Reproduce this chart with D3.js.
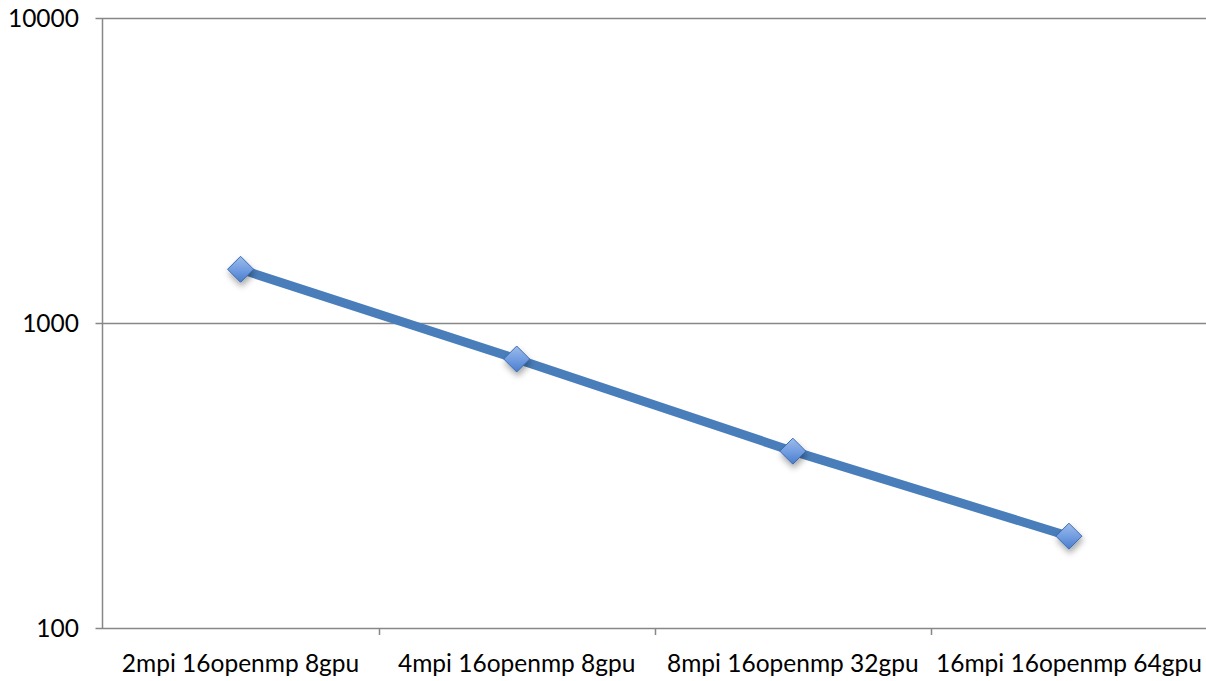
<!DOCTYPE html>
<html>
<head>
<meta charset="utf-8">
<script src="https://cdn.jsdelivr.net/npm/d3@7"></script>
<style>
  html, body { margin: 0; padding: 0; background: #fff; }
  svg { display: block; }
</style>
</head>
<body>
<svg id="chart" width="1206" height="681"></svg>
<script>
// Run configurations and their timings (log scale)
const categories = [
  "2mpi 16openmp 8gpu",
  "4mpi 16openmp 8gpu",
  "8mpi 16openmp 32gpu",
  "16mpi 16openmp 64gpu"
];
const timings = [1500, 762, 380, 200];
const yTicks = [100, 1000, 10000];

const svg = d3.select("#chart");
const plotLeft = 102.5, plotRight = 1207, plotTop = 18, plotBottom = 628;
const font = "Lato, 'Open Sans', sans-serif";
const fontSize = 24.5;

const x = d3.scaleBand().domain(categories).range([plotLeft, plotRight]).paddingInner(0).paddingOuter(0);
const y = d3.scaleLog().domain([100, 10000]).range([plotBottom, plotTop]);

const defs = svg.append("defs");
const grad = defs.append("linearGradient").attr("id", "markerFill")
  .attr("x1", 0).attr("y1", 0).attr("x2", 0).attr("y2", 1);
grad.append("stop").attr("offset", "0%").attr("stop-color", "#9dbcea");
grad.append("stop").attr("offset", "55%").attr("stop-color", "#6f9be0");
grad.append("stop").attr("offset", "100%").attr("stop-color", "#4a7dc9");
const shadow = defs.append("filter").attr("id", "shadow")
  .attr("x", "-50%").attr("y", "-50%").attr("width", "200%").attr("height", "200%");
shadow.append("feDropShadow").attr("dx", 1).attr("dy", 4).attr("stdDeviation", 3)
  .attr("flood-color", "#000").attr("flood-opacity", 0.35);

// Horizontal gridlines
svg.append("g").selectAll("line").data(yTicks).join("line")
  .attr("x1", plotLeft - 7).attr("x2", plotRight)
  .attr("y1", d => Math.round(y(d)) + 0.5).attr("y2", d => Math.round(y(d)) + 0.5)
  .attr("stroke", "#878787").attr("stroke-width", 1.5);

// Y axis line
svg.append("line").attr("x1", plotLeft).attr("x2", plotLeft).attr("y1", plotTop).attr("y2", plotBottom + 1)
  .attr("stroke", "#878787").attr("stroke-width", 1.5);

// Y labels
svg.append("g").selectAll("text").data(yTicks).join("text")
  .attr("x", 79).attr("y", d => y(d)).attr("dy", "0.36em")
  .attr("text-anchor", "end").attr("font-family", font).attr("font-size", fontSize)
  .attr("fill", "#000").text(d => d);

// X tick marks at category boundaries
const bounds = categories.slice(1).map(c => x(c));
svg.append("g").selectAll("line").data(bounds).join("line")
  .attr("x1", d => Math.round(d) + 0.5).attr("x2", d => Math.round(d) + 0.5)
  .attr("y1", plotBottom).attr("y2", plotBottom + 7)
  .attr("stroke", "#878787").attr("stroke-width", 1.5);

// X labels
svg.append("g").selectAll("text").data(categories).join("text")
  .attr("x", d => x(d) + x.bandwidth() / 2).attr("y", 672)
  .attr("text-anchor", "middle").attr("font-family", font).attr("font-size", fontSize)
  .attr("fill", "#000").text(d => d);

// Series line
const pts = categories.map((c, i) => [x(c) + x.bandwidth() / 2, y(timings[i])]);
svg.append("path").attr("d", d3.line()(pts))
  .attr("fill", "none").attr("stroke", "#4a7ebb").attr("stroke-width", 9)
  .attr("stroke-linejoin", "round");

// Diamond markers
const r = 13;
svg.append("g").selectAll("path").data(pts).join("path")
  .attr("d", ([cx, cy]) => `M${cx},${cy - r}L${cx + r},${cy}L${cx},${cy + r}L${cx - r},${cy}Z`)
  .attr("fill", "url(#markerFill)").attr("stroke", "#3b6cb0").attr("stroke-width", 1)
  .attr("filter", "url(#shadow)");
</script>
</body>
</html>
